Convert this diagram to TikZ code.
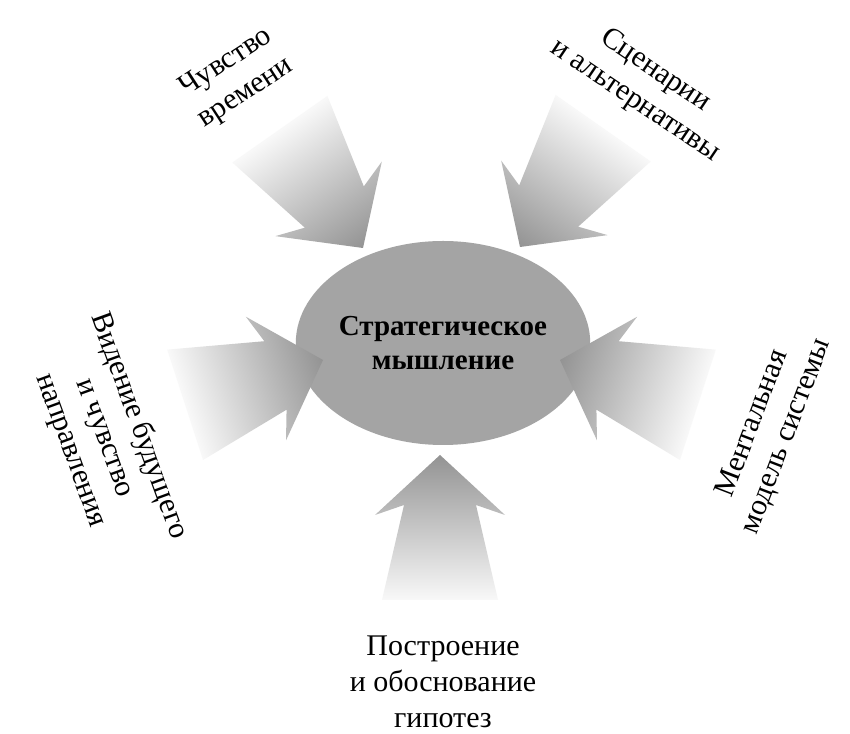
\documentclass[tikz,border=0pt]{standalone}
\usepackage{fontspec}
\setmainfont{Liberation Serif}
\usepackage{xcolor}
\definecolor{Ash Gray}{HTML}{A4A4A4}
\definecolor{Smoke Gray}{HTML}{939393}
\colorlet{cCore}{Ash Gray}
\colorlet{cArrow}{Smoke Gray}
\usepackage{tikz}
\usetikzlibrary{shapes.geometric}
\tikzset{
	x = 1pt,
	y = 1pt,
	core/.style={
		ellipse,
		fill=cCore,
		minimum width=220pt,
		minimum height=204pt,
		inner sep=0pt,
		align=center,
		font=\fontsize{29}{34}\selectfont\bfseries
	},
	factor/.style={
		align=center,
		inner sep=0pt,
		font=\fontsize{30}{36}\selectfont
	},
	fat arrow/.style={
		left color=cArrow!6,
		middle color=cArrow!72,
		right color=cArrow
	}
}

\begin{document}
\begin{tikzpicture}
		\path[use as bounding box, fill=white] (0,0) rectangle (850,733);

\node[core] (core) at (443,390) {Стратегическое\\мышление};

% ---
% Arrows
% ---
\foreach \name/\x/\y/\a in {ul/363/485/-55, ur/520/486/-125, l/323/373/18, r/560/373/162, b/440/278/90} {
	\coordinate (tip-\name) at (\x,\y);
	\begin{scope}[transform canvas={shift={(\x,\y)}, rotate=\a}]
		\shade[fat arrow] (0,0) -- (-60,65) -- (-50,36) -- (-145,58) -- (-145,-58) -- (-50,-36) -- (-60,-65) -- cycle;
	\end{scope}
};

% ---
% Labels
% ---
\node[factor, rotate=33] (time) at (236,655) {Чувство\\времени};
\node[factor, rotate=-34] (scenarios) at (645,647) {Сценарии\\и альтернативы};
\node[factor, rotate=-70] (vision) at (105,295) {Видение будущего\\и чувство\\направления};
\node[factor, rotate=69] (model) at (770,303) {Ментальная\\модель системы};
\node[factor] (hypotheses) at (443,51) {Построение\\и обоснование\\гипотез};
	\end{tikzpicture}
\end{document}
